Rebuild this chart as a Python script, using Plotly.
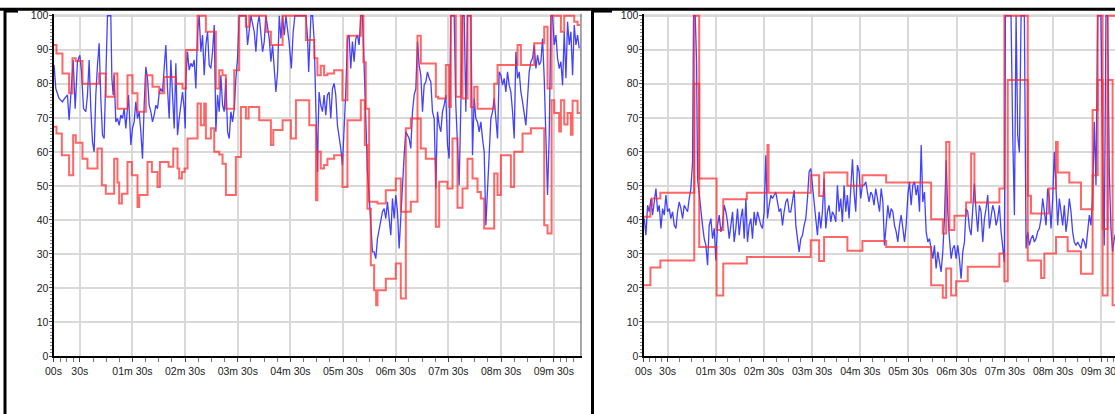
import plotly.graph_objects as go

# ---------------- data (time in seconds, value 0-100) ----------------
tick_vals = [0, 30, 90, 150, 210, 270, 330, 390, 450, 510, 570]
tick_text = ["00s", "30s", "01m 30s", "02m 30s", "03m 30s", "04m 30s",
             "05m 30s", "06m 30s", "07m 30s", "08m 30s", "09m 30s"]
y_ticks = [0, 10, 20, 30, 40, 50, 60, 70, 80, 90, 100]

left_blue = [
    (0.7, 85.5), (2.6, 78.6), (6.4, 75.7), (10.2, 74.7), (12.1, 75.5), (15.9, 76.7), (17.8, 69.3), (19.7, 75.7),
    (22.4, 87.0), (24.7, 72.7), (27.3, 86.5), (30.0, 88.4), (31.9, 83.5), (34.2, 72.7), (36.8, 71.8), (38.7, 76.7),
    (40.6, 87.0), (42.5, 72.7), (44.4, 62.9), (46.3, 60.0), (48.2, 76.7), (50.1, 85.5), (52.0, 91.9), (53.9, 75.7),
    (55.8, 64.9), (57.7, 63.9), (59.6, 81.6), (61.5, 100), (65.3, 100), (66.5, 81.6), (68.0, 76.7), (69.1, 82.5),
    (71.0, 68.8), (72.9, 69.8), (74.8, 67.8), (76.7, 70.8), (78.6, 69.8), (80.5, 72.7), (82.4, 66.9), (85.5, 76.7),
    (88.1, 62.0), (90.0, 66.9), (91.9, 68.8), (93.8, 74.7), (95.7, 69.8), (97.6, 71.8), (99.5, 65.9), (101.4, 58.0),
    (103.3, 73.7), (105.2, 85.0), (107.1, 81.6), (109.0, 73.7), (110.9, 71.8), (112.8, 68.8), (114.7, 70.8),
    (116.6, 73.7), (118.5, 72.7), (120.4, 77.2), (122.3, 78.6), (124.2, 77.6), (126.1, 84.5), (128.0, 91.4),
    (129.9, 78.6), (131.8, 69.8), (133.7, 87.0), (135.6, 75.7), (137.5, 66.9), (139.4, 86.0), (141.3, 64.9),
    (143.2, 69.8), (145.1, 74.7), (147.0, 77.6), (148.9, 72.7), (150.1, 66.9), (150.8, 81.6), (152.7, 89.4),
    (154.6, 84.0), (156.5, 86.0), (158.4, 85.0), (160.3, 87.0), (162.2, 78.6), (164.1, 95.3), (166.0, 100),
    (167.9, 89.4), (169.8, 94.3), (171.7, 82.5), (173.6, 91.4), (175.5, 95.3), (177.4, 85.5), (179.3, 84.5),
    (181.2, 89.4), (183.1, 97.3), (185.0, 65.9), (186.9, 76.7), (188.8, 71.8), (190.7, 82.5), (192.6, 73.7),
    (194.5, 71.8), (196.4, 81.6), (198.3, 65.9), (200.2, 63.9), (202.1, 71.8), (204.0, 68.8), (205.9, 72.7),
    (207.8, 81.6), (209.7, 87.5), (211.6, 100), (219.2, 100), (221.1, 91.4), (223.0, 95.3), (224.9, 100),
    (228.7, 95.3), (230.6, 89.4), (232.5, 97.3), (234.4, 100), (238.2, 89.4), (240.1, 92.4), (242.0, 100),
    (245.8, 93.3), (247.7, 86.5), (249.6, 91.4), (251.5, 84.5), (253.4, 77.6), (255.3, 83.5), (257.2, 100),
    (259.1, 93.3), (261.0, 100), (262.9, 94.3), (264.8, 100), (268.5, 92.0), (271.0, 84.5), (273.0, 95.0),
    (275.0, 100), (287.6, 100), (289.5, 93.3), (290.7, 83.5), (292.2, 92.4), (293.3, 100), (295.2, 100),
    (297.1, 92.4), (299.0, 71.8), (300.9, 54.1),
    (301.5, 66.9), (302.6, 77.6), (304.5, 73.7), (306.4, 71.8), (308.3, 76.7), (310.2, 70.8), (312.1, 76.7),
    (314.0, 77.6), (315.9, 69.8), (317.8, 78.6), (319.7, 80.1), (321.6, 76.7), (323.5, 67.8), (325.4, 64.9),
    (327.3, 61.0), (329.2, 56.1), (331.1, 66.9), (333.0, 77.6), (334.9, 93.3), (336.8, 94.3), (338.7, 84.5),
    (340.6, 92.4), (342.5, 86.5), (344.4, 93.3), (346.3, 94.3), (348.2, 91.4), (350.1, 100), (352.0, 100),
    (353.9, 85.5), (355.8, 71.8), (357.7, 54.1), (359.6, 47.3), (361.5, 37.5), (363.4, 30.6), (365.3, 30.6),
    (367.2, 28.6), (369.1, 34.5), (371.0, 37.5), (372.9, 39.4), (374.8, 42.4), (376.7, 43.3), (378.6, 40.4),
    (380.5, 45.3), (382.4, 40.4), (384.3, 35.5), (386.2, 46.3), (388.1, 40.4), (390.0, 47.3), (391.9, 42.4),
    (393.8, 31.6), (395.7, 40.4), (397.6, 53.1), (399.5, 59.0), (401.4, 65.9), (403.3, 64.9), (405.2, 63.9),
    (407.1, 61.0), (409.0, 71.8), (410.9, 76.7), (412.8, 78.6), (414.7, 92.4), (416.6, 85.5), (418.5, 82.5),
    (420.4, 71.8), (422.3, 79.6), (424.2, 80.6), (426.1, 83.5), (428.0, 81.6), (429.9, 80.6), (431.8, 71.8),
    (433.7, 69.8), (435.6, 49.2), (437.5, 71.8), (439.4, 67.8), (441.3, 65.9), (443.2, 71.8), (445.1, 73.7),
    (447.0, 76.7), (448.9, 62.0), (450.8, 58.0), (452.7, 100), (456.5, 100), (458.4, 73.7), (460.3, 63.9),
    (462.2, 50.2), (464.1, 73.7), (466.0, 100), (467.9, 100), (469.8, 71.8), (471.7, 100), (475.5, 100),
    (477.4, 59.0), (479.3, 75.7), (481.2, 69.8), (483.1, 68.8), (485.0, 65.9), (486.9, 68.8), (488.8, 63.9),
    (490.7, 60.0), (492.6, 38.4), (494.5, 50.2), (496.4, 62.0), (498.3, 69.8), (500.2, 71.8), (502.1, 75.7),
    (504.0, 69.8), (505.9, 63.9), (507.8, 83.5), (509.7, 82.5), (511.6, 79.6), (513.5, 81.6), (515.4, 77.6),
    (517.3, 83.5), (519.2, 79.6), (521.1, 77.6), (523.0, 71.8), (524.9, 63.9), (526.8, 89.4), (528.7, 81.6),
    (530.6, 83.5), (532.5, 77.6), (534.4, 74.7), (536.3, 71.8), (538.2, 67.8), (540.1, 75.7), (542.0, 83.5),
    (543.9, 86.5), (545.8, 87.5), (547.7, 91.4), (549.6, 84.5), (551.5, 88.4), (553.4, 85.5), (555.3, 86.5),
    (557.2, 93.3), (559.1, 81.6), (561.0, 63.9), (562.9, 47.3), (564.8, 64.9), (566.7, 100), (568.6, 100),
    (570.5, 91.4), (572.4, 94.3), (574.3, 87.5), (576.2, 84.5), (578.1, 86.5), (580.0, 79.6), (581.9, 95.3),
    (583.8, 81.6), (585.7, 98.2), (587.6, 91.4), (589.5, 95.3), (591.4, 82.5), (593.3, 97.3), (595.2, 91.4),
    (597.1, 94.3), (599.0, 90.4),
]

left_upper = [
    (0, 91.4), (3.4, 88.9), (10.2, 83.0), (17.8, 77.2), (21.6, 87.5), (25.4, 86.7), (33.0, 80.0), (52.0, 83.0),
    (59.6, 76.2), (69.1, 83.0), (72.9, 72.7), (84.3, 82.5), (90.0, 77.2), (95.7, 71.8), (105.2, 82.5),
    (112.8, 79.1), (120.4, 77.2), (126.1, 82.0), (139.4, 80.0), (147.0, 78.6), (150.8, 89.9), (164.1, 100),
    (173.6, 95.3), (185.0, 78.6), (188.8, 84.0), (192.6, 82.5), (196.4, 72.7), (205.9, 84.0), (211.6, 100),
    (219.2, 96.8), (223.0, 100), (242.0, 95.3), (247.7, 91.4), (261.0, 100), (287.6, 92.9), (297.1, 87.5),
    (300.7, 82.5), (304.5, 85.3), (308.3, 82.5), (312.1, 83.0), (319.7, 84.0), (329.2, 75.2), (334.9, 94.1),
    (350.1, 100), (353.1, 86.3), (355.8, 72.7), (359.6, 45.3), (369.1, 44.8), (378.6, 48.7), (390.0, 52.2),
    (395.7, 42.4), (407.1, 45.3), (414.7, 94.1), (418.5, 86.0), (435.6, 76.2), (438.3, 75.7), (447.0, 85.5),
    (450.8, 73.2), (452.7, 100), (458.4, 76.2), (464.1, 100), (466.0, 75.7), (471.7, 100), (475.5, 73.2),
    (479.3, 79.1), (483.1, 72.7), (502.1, 80.0), (505.9, 85.5), (528.7, 91.4), (532.5, 85.5), (547.7, 91.9),
    (559.1, 96.8), (562.9, 78.6), (567.5, 100), (578.1, 95.3), (581.9, 100), (593.3, 98.2), (597.1, 97.3),
    (600, 97.3),
]

left_lower = [
    (0, 67.4), (3.4, 65.4), (9.5, 59.0), (17.8, 53.1), (22.4, 64.9), (25.4, 62.7), (33.0, 58.0), (38.7, 55.1),
    (50.1, 61.0), (55.1, 50.2), (59.6, 47.7), (69.1, 58.0), (72.9, 51.0), (74.8, 44.8), (77.9, 47.7),
    (84.3, 57.0), (89.3, 53.1), (95.7, 43.8), (97.6, 47.3), (107.1, 57.0), (112.1, 54.1), (118.5, 49.7),
    (121.2, 57.0), (131.1, 55.6), (136.4, 61.0), (141.3, 55.1), (143.2, 52.2), (146.3, 54.1), (149.3, 55.1),
    (152.7, 63.9), (164.1, 74.2), (167.9, 67.8), (171.7, 74.2), (173.6, 63.9), (179.3, 66.9), (183.1, 60.0),
    (188.8, 59.2), (192.6, 56.5), (196.4, 47.3), (207.8, 58.5), (213.5, 73.2), (219.2, 69.8), (222.3, 73.2),
    (234.4, 69.3), (247.7, 62.0), (250.4, 66.4), (261.0, 69.3), (270.5, 63.9), (276.2, 75.2), (291.4, 67.8),
    (299.0, 45.8), (300.7, 60.0), (304.5, 55.1), (308.3, 56.1), (312.1, 58.0), (319.7, 59.0), (329.2, 49.7),
    (334.9, 69.3), (350.1, 75.2), (354.7, 62.0), (357.7, 43.3), (361.5, 26.7), (365.3, 19.3), (367.6, 14.9),
    (369.1, 19.3), (378.6, 22.7), (390.0, 27.2), (395.7, 16.9), (401.4, 66.9), (407.1, 69.8), (418.5, 61.0),
    (424.2, 58.0), (435.6, 38.0), (439.4, 51.2), (448.9, 49.2), (454.6, 63.9), (460.3, 43.6), (466.0, 49.2),
    (471.7, 58.0), (477.4, 52.2), (483.1, 48.2), (486.9, 46.3), (490.7, 37.5), (502.1, 53.6), (505.9, 47.3),
    (509.7, 59.0), (521.1, 49.7), (524.9, 60.0), (534.4, 65.4), (543.9, 66.9), (559.1, 38.4), (562.9, 36.0),
    (567.5, 75.2), (570.5, 71.4), (576.2, 66.0), (578.1, 75.2), (581.9, 68.0), (585.7, 71.4), (589.5, 65.0),
    (591.4, 75.0), (597.1, 71.4), (600, 71.4),
]

right_blue = [
    (1.0, 40.4), (3.0, 35.5), (5.1, 44.3), (7.2, 42.4), (9.3, 46.3), (11.3, 41.4), (13.4, 45.3), (15.5, 49.2),
    (17.6, 42.4), (19.6, 44.3), (21.7, 37.5), (23.8, 43.3), (25.9, 41.4), (27.9, 47.3), (30.0, 42.4),
    (32.1, 43.3), (34.1, 40.4), (36.2, 42.4), (38.3, 38.4), (40.4, 37.5), (42.4, 42.4), (44.5, 45.3),
    (46.6, 43.3), (48.7, 40.4), (50.7, 44.3), (52.8, 43.3), (54.9, 42.4), (57.0, 46.3), (59.0, 49.2),
    (61.1, 57.0), (62.3, 100), (64.4, 100), (66.1, 86.5), (67.3, 52.2), (69.4, 46.7), (71.5, 42.4),
    (73.5, 38.4), (75.6, 34.5), (77.7, 32.5), (79.8, 26.7), (81.8, 38.4), (83.9, 40.4), (86.0, 34.5),
    (88.1, 37.5), (90.1, 28.1), (92.2, 38.4), (94.3, 41.4), (96.4, 36.5), (98.4, 38.4), (100.5, 44.3),
    (102.6, 42.4), (104.6, 39.4), (106.7, 34.5), (108.8, 38.4), (110.9, 42.4), (112.9, 33.5), (115.0, 37.5),
    (117.1, 43.3), (119.2, 35.5), (121.2, 40.4), (123.3, 43.3), (125.4, 34.5), (127.5, 46.3), (129.5, 33.5),
    (131.6, 38.4), (133.7, 40.4), (135.7, 34.5), (137.8, 42.4), (139.9, 38.4), (142.0, 42.4), (144.0, 40.4),
    (146.1, 38.4), (148.2, 37.5), (150.3, 42.4), (152.3, 59.0), (154.4, 40.4), (156.5, 44.3), (158.6, 47.3),
    (160.6, 46.3), (162.7, 47.3), (164.8, 48.2), (166.8, 45.3), (168.9, 42.4), (171.0, 43.3), (173.1, 38.4),
    (175.1, 42.4), (177.2, 45.3), (179.3, 46.3), (181.4, 42.4), (183.4, 42.4), (185.5, 46.3), (187.6, 48.7),
    (189.7, 38.4), (191.7, 34.5), (193.8, 30.6), (195.9, 34.5), (198.0, 35.5), (200.0, 38.4), (202.1, 40.4),
    (204.2, 46.3), (206.2, 54.1), (208.3, 55.1), (210.4, 50.2), (212.5, 43.3), (214.5, 40.4), (216.6, 35.5),
    (218.7, 42.4), (220.8, 37.5), (222.8, 42.4), (224.9, 52.2), (227.0, 37.5), (229.1, 42.4), (231.1, 44.3),
    (233.2, 39.4), (235.3, 42.4), (237.4, 41.4), (239.4, 39.4), (241.5, 50.2), (243.6, 42.4), (245.6, 46.3),
    (247.7, 39.4), (249.8, 50.2), (251.9, 42.4), (253.9, 47.3), (256.0, 40.4), (258.1, 49.2), (260.2, 57.8),
    (262.2, 48.2), (264.3, 42.4), (266.4, 56.1), (268.5, 54.1), (270.5, 46.3), (272.6, 50.2), (274.7, 50.2),
    (276.8, 51.2), (278.8, 48.2), (280.9, 45.3), (283.0, 48.2), (285.0, 47.3), (287.1, 44.3), (289.2, 49.2),
    (291.3, 46.3), (293.9, 42.4), (296.0, 49.2), (298.1, 45.3), (300.1, 32.5), (302.2, 38.4), (304.3, 44.3),
    (306.4, 40.4), (308.4, 43.3), (310.5, 42.4), (312.6, 38.4), (314.7, 36.5), (316.7, 33.5), (318.8, 38.4),
    (320.9, 41.4), (323.0, 37.5), (325.0, 33.5), (327.1, 38.4), (329.2, 47.3), (331.2, 51.2), (333.3, 44.3),
    (335.4, 50.2), (337.5, 51.2), (339.5, 47.3), (341.6, 50.2), (343.7, 42.4), (345.8, 62.0), (347.8, 45.3),
    (349.9, 48.2), (352.0, 36.5), (354.1, 33.5), (356.1, 34.5), (358.2, 31.6), (360.3, 28.6), (362.3, 32.5),
    (364.4, 25.7), (366.5, 30.6), (368.6, 26.7), (370.6, 24.7), (372.7, 30.6), (374.8, 40.4), (376.9, 57.5),
    (378.9, 42.4), (381.0, 34.5), (383.1, 28.6), (385.2, 31.6), (387.2, 32.5), (389.3, 28.6), (391.4, 32.5),
    (393.4, 28.6), (395.5, 22.7), (397.6, 30.6), (399.7, 33.5), (401.7, 43.3), (403.8, 42.4), (405.9, 37.5),
    (408.0, 35.5), (410.0, 43.3), (412.1, 50.7), (414.2, 42.4), (416.3, 36.5), (418.3, 44.3), (420.4, 42.4),
    (422.5, 33.5), (424.6, 40.4), (426.6, 43.3), (428.7, 47.3), (430.8, 37.5), (432.8, 40.4), (434.9, 44.3),
    (437.0, 42.4), (439.1, 38.4), (441.1, 40.4), (443.2, 44.3), (445.3, 36.5), (447.4, 32.5), (449.4, 27.6),
    (450.7, 100), (457.7, 100), (459.8, 64.9), (461.9, 41.4), (464.0, 100), (466.0, 64.9), (468.1, 59.8),
    (470.2, 100), (474.3, 100), (476.4, 31.6), (478.5, 36.5), (480.5, 32.5), (482.6, 34.5), (484.7, 35.5),
    (486.8, 33.5), (488.8, 34.5), (490.9, 36.5), (493.0, 37.5), (495.1, 40.4), (497.1, 46.3), (499.2, 42.4),
    (501.3, 38.4), (503.3, 49.2), (505.4, 46.3), (507.5, 37.5), (509.6, 46.3), (511.6, 60.0), (513.7, 46.3),
    (515.8, 38.4), (517.9, 46.3), (519.9, 42.4), (522.0, 38.4), (524.1, 44.3), (526.1, 36.5), (528.2, 40.4),
    (530.3, 46.3), (532.4, 42.4), (534.4, 36.5), (536.5, 33.5), (538.6, 32.5), (540.7, 33.5), (542.7, 32.5),
    (544.8, 31.6), (546.9, 34.5), (549.0, 33.5), (551.0, 31.6), (553.1, 36.5), (555.2, 41.4), (557.3, 38.4),
    (559.3, 47.3), (561.4, 68.8), (563.5, 50.2), (565.6, 100), (569.7, 100), (571.8, 57.1), (573.8, 32.5),
    (575.9, 100), (578.0, 100), (580.1, 54.1), (582.1, 37.5), (584.2, 30.6), (586.3, 34.5), (590.0, 38.0),
]

right_upper = [
    (0, 40.9), (8.6, 44.3), (10.5, 46.3), (21.0, 48.0), (63.2, 100), (69.4, 52.2), (91.0, 37.0), (99.3, 46.1),
    (128.7, 48.0), (154.4, 62.0), (155.7, 48.0), (208.3, 53.1), (218.7, 47.0), (224.9, 53.9), (253.9, 50.0),
    (272.6, 53.1), (302.2, 51.0), (358.2, 40.2), (372.7, 36.0), (376.9, 62.9), (381.0, 37.0), (387.2, 41.2),
    (401.7, 45.1), (408.0, 59.5), (412.1, 45.1), (443.2, 49.2), (449.4, 100), (478.5, 47.1), (482.6, 41.9),
    (504.8, 49.2), (513.7, 62.9), (515.8, 53.9), (530.3, 51.0), (544.8, 43.1), (559.3, 72.3), (565.6, 100),
    (571.8, 37.3), (578.0, 100), (600, 100),
]

right_lower = [
    (0, 20.8), (8.6, 26.0), (21.0, 28.1), (63.2, 80.0), (69.4, 32.0), (91.0, 17.8), (99.3, 27.2), (128.7, 29.1),
    (208.3, 34.0), (218.7, 27.9), (224.9, 35.0), (253.9, 30.9), (272.6, 33.8), (302.2, 32.0), (358.2, 20.8),
    (372.7, 17.1), (376.9, 25.7), (383.1, 17.8), (389.3, 22.0), (403.8, 26.2), (443.2, 30.1), (449.4, 22.0),
    (453.6, 81.1), (478.5, 28.1), (495.1, 22.9), (499.2, 30.1), (513.7, 35.0), (528.2, 30.8), (544.8, 24.2),
    (559.3, 53.1), (565.6, 81.1), (571.8, 17.8), (578.0, 81.1), (584.2, 14.9), (600, 14.9),
]

# ---------------- styling ----------------
W, H = 1115, 414
BLUE = "rgba(40,40,255,0.88)"
RED = "rgba(255,45,45,0.72)"
GRID = "#d9d9d9"
FONT = "Liberation Sans, Arial, sans-serif"

def xy(pairs):
    return [p[0] for p in pairs], [p[1] for p in pairs]

fig = go.Figure()

panels = [
    ("x", "y", left_blue, left_upper, left_lower),
    ("x2", "y2", right_blue, right_upper, right_lower),
]
for xa, ya, blue, up, lo in panels:
    bx, by = xy(blue)
    fig.add_trace(go.Scatter(x=bx, y=by, mode="lines", xaxis=xa, yaxis=ya,
                             line=dict(color=BLUE, width=1.3), showlegend=False, hoverinfo="skip"))
    for ser in (up, lo):
        sx, sy = xy(ser)
        fig.add_trace(go.Scatter(x=sx, y=sy, mode="lines", xaxis=xa, yaxis=ya, line_shape="hv",
                                 line=dict(color=RED, width=2), showlegend=False, hoverinfo="skip"))

minor_x = [7.5, 15, 22.5] + [t for t in range(45, 570, 15) if (t - 30) % 60 != 0] + [577.5, 585, 592.5]

def xaxis(domain, rng, anchor):
    return dict(domain=domain, range=rng, anchor=anchor, automargin=False,
                tickmode="array", tickvals=tick_vals, ticktext=tick_text,
                ticklabeloverflow="allow",
                showgrid=True, gridcolor=GRID, gridwidth=2, zeroline=False,
                showline=True, linecolor="black", linewidth=2,
                ticks="outside", ticklen=4, tickcolor="#444", tickwidth=1,
                minor=dict(tickmode="array", tickvals=minor_x, ticks="outside", ticklen=4,
                           tickcolor="#777", showgrid=False),
                tickfont=dict(family=FONT, size=10.5, color="#222"), fixedrange=True)

def yaxis(anchor):
    return dict(domain=[58 / H, 1 - 13.7 / H], range=[0, 100.6], anchor=anchor, automargin=False,
                tickmode="array", tickvals=y_ticks,
                showgrid=True, gridcolor=GRID, gridwidth=2, zeroline=False,
                showline=True, linecolor="black", linewidth=2,
                ticks="outside", ticklen=3, tickcolor="#444", tickwidth=1,
                ticklabelstandoff=-2,
                minor=dict(dtick=1, ticks="outside", ticklen=2, tickcolor="#888", showgrid=False),
                tickfont=dict(family=FONT, size=10.5, color="#222"), fixedrange=True)

left_dom = [53.5 / W, 581.7 / W]
right_dom = [643.5 / W, 1.0]
left_rng = [0, (581.7 - 53.5) / 0.8777]
right_rng = [0, (W - 643.5) / 0.803]

fig.update_layout(
    width=W, height=H, autosize=False,
    margin=dict(l=0, r=0, t=0, b=0, pad=0, autoexpand=False),
    paper_bgcolor="white", plot_bgcolor="white",
    xaxis=xaxis(left_dom, left_rng, "y"),
    yaxis=yaxis("x"),
    xaxis2=xaxis(right_dom, right_rng, "y2"),
    yaxis2=yaxis("x2"),
)

shapes = []
for xr, yr, rng in (("x", "y", left_rng), ("x2", "y2", right_rng)):
    shapes.append(dict(type="line", xref=xr, yref=yr, x0=0, x1=rng[1], y0=100, y1=100,
                       line=dict(color="#8c8c8c", width=2), layer="below"))
shapes.append(dict(type="line", xref="x", yref="y", x0=left_rng[1] - 0.6, x1=left_rng[1] - 0.6, y0=0, y1=100.6,
                   line=dict(color="#8c8c8c", width=2), layer="above"))

def px_line(x0, y0, x1, y1, w):
    return dict(type="line", xref="paper", yref="paper", x0=x0 / W, x1=x1 / W,
                y0=1 - y0 / H, y1=1 - y1 / H, line=dict(color="black", width=w), layer="above")

shapes += [
    px_line(0, 9.3, W, 9.3, 3),
    px_line(5, 8, 5, H, 3),
    px_line(592.5, 8, 592.5, H, 3),
    px_line(6, 11.3, 18, 11.3, 2.5),
    px_line(594, 11.3, 612, 11.3, 2.5),
]
fig.update_layout(shapes=shapes)

fig.write_html("out.html", config=dict(displayModeBar=False, staticPlot=True),
               post_script="document.body.style.margin='0';document.body.style.overflow='hidden';")
